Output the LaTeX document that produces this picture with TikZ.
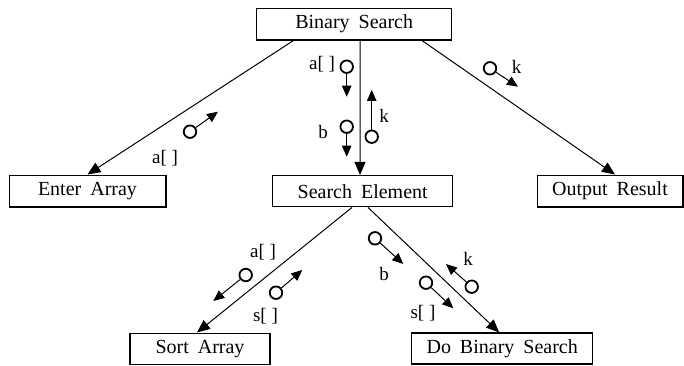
\documentclass[tikz,border=0pt]{standalone}
\usepackage{fontspec}
\setmainfont{Liberation Serif}
\usetikzlibrary{arrows.meta,calc}
\begin{document}
\begin{tikzpicture}[x=1pt,y=-1pt,
  box/.style={draw,line width=1.5pt,rectangle,inner sep=0pt,font=\fontsize{20}{22}\selectfont},
  edge/.style={line width=1pt,-{Triangle[length=13pt,width=11pt]}},
  cpl/.style={draw,circle,line width=1.8pt,minimum size=12.5pt,inner sep=0pt},
  cplarrow/.style={line width=1pt,-{Triangle[length=11pt,width=9.5pt]}},
  lbl/.style={font=\fontsize{19}{21}\selectfont,inner sep=0pt}]
\useasboundingbox (0,0) rectangle (684,366);
\newcommand{\wsp}{\hspace{0.45em}}
% modules
\node[box,minimum width=195pt,minimum height=31.5pt] (bs) at (354.2,24.2) {Binary\wsp Search};
\node[box,minimum width=156.5pt,minimum height=31.5pt] (ea) at (87.5,191) {Enter\wsp Array};
\node[box,minimum width=180pt,minimum height=31pt] (se) at (362.7,191.2) {Search\wsp Element};
\node[box,minimum width=145.5pt,minimum height=31.5pt] (or) at (610,191) {Output\wsp Result};
\node[box,minimum width=140pt,minimum height=31pt] (sa) at (200,348.8) {Sort\wsp Array};
\node[box,minimum width=181pt,minimum height=31pt] (dbs) at (502.2,348.7) {Do\wsp Binary\wsp Search};
% connectors
\draw[edge] ($(bs.south)+(-61,0)$) -- (ea.north);
\draw[edge] ($(bs.south)+(6,0)$) -- ($(se.north)+(-2.7,0)$);
\draw[edge] ($(bs.south)+(68,0)$) -- ($(or.north)+(5,0)$);
\draw[edge] ($(se.south)+(-10.7,0)$) -- ($(sa.north)+(-3,0)$);
\draw[edge] ($(se.south)+(5.3,0)$) -- ($(dbs.north)+(-3,0)$);
% couples: Binary Search -> Search Element
\node[cpl] (c1) at (346.7,66.7) {};
\coordinate (e1) at (346.7,96.7);
\draw[cplarrow] (c1) -- (e1);
\node[lbl] (l1) at (322,64) {a[ ]};
\node[cpl] (c2) at (346.7,126.7) {};
\coordinate (e2) at (346.7,156.7);
\draw[cplarrow] (c2) -- (e2);
\node[lbl] (l2) at (323,132) {b};
\node[cpl] (c3) at (371.7,136.7) {};
\coordinate (e3) at (371.7,90);
\draw[cplarrow] (c3) -- (e3);
\node[lbl] (l3) at (384,116) {k};
% Enter Array
\node[cpl] (c4) at (190,131.7) {};
\coordinate (e4) at (218,111.7);
\draw[cplarrow] (c4) -- (e4);
\node[lbl] (l4) at (165,158) {a[ ]};
% Output Result
\node[cpl] (c5) at (490,68.3) {};
\coordinate (e5) at (518,86.7);
\draw[cplarrow] (c5) -- (e5);
\node[lbl] (l5) at (516.5,66.5) {k};
% Sort Array
\node[cpl] (c6) at (245.7,275) {};
\coordinate (e6) at (213.3,301);
\draw[cplarrow] (c6) -- (e6);
\node[lbl] (l6) at (263,252.5) {a[ ]};
\node[cpl] (c7) at (276,292.7) {};
\coordinate (e7) at (302.3,270);
\draw[cplarrow] (c7) -- (e7);
\node[lbl] (l7) at (265.5,316) {s[ ]};
% Do Binary Search
\node[cpl] (c8) at (375,238.3) {};
\coordinate (e8) at (403.3,264);
\draw[cplarrow] (c8) -- (e8);
\node[lbl] (l8) at (384,274) {b};
\node[cpl] (c9) at (426,282.7) {};
\coordinate (e9) at (453.3,308.3);
\draw[cplarrow] (c9) -- (e9);
\node[lbl] (l9) at (423,313) {s[ ]};
\node[cpl] (c10) at (471.7,286.7) {};
\coordinate (e10) at (446,264);
\draw[cplarrow] (c10) -- (e10);
\node[lbl] (l10) at (468,259) {k};
\end{tikzpicture}
\end{document}
